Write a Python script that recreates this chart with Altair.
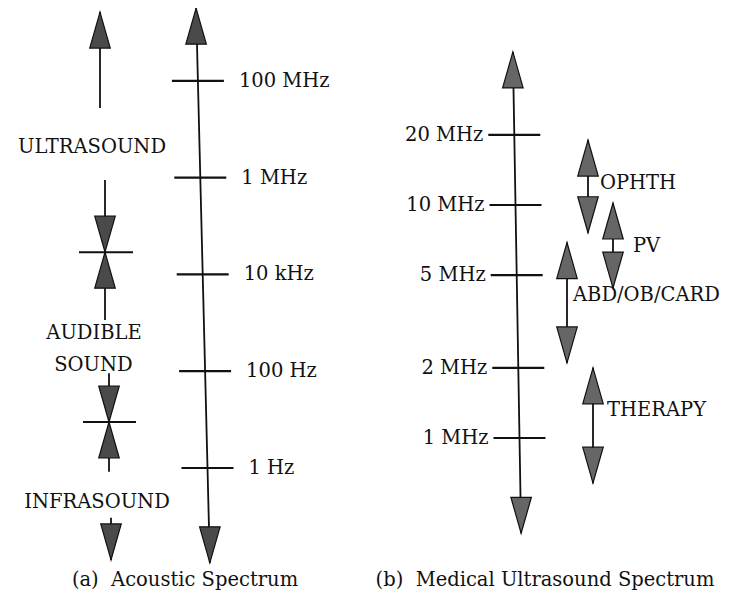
import altair as alt
import pandas as pd
import math

# ---------------- (a) Acoustic spectrum : values are log10(frequency / Hz) ----------------
a_tick_labels = ["100 MHz", "1 MHz", "10 kHz", "100 Hz", "1 Hz"]
a_tick_log10 = [8, 6, 4, 2, 0]
a_axis_tips_log10 = [9.50, -1.96]                 # top / bottom arrow tips of the main axis
a_region_labels = ["ULTRASOUND", "AUDIBLE", "SOUND", "INFRASOUND"]
a_region_label_log10 = [6.63, 2.79, 2.13, -0.70]
a_boundary_log10 = [4.46, 0.95]                   # ultrasound/audible, audible/infrasound
a_arrow_from_log10 = [7.44, 5.95, 3.06, 1.96, -0.08, -1.03]
a_arrow_to_log10 = [9.42, 4.46, 4.46, 0.95, 0.95, -1.90]

# ---------------- (b) Medical ultrasound spectrum : values in MHz ----------------
b_tick_labels = ["20 MHz", "10 MHz", "5 MHz", "2 MHz", "1 MHz"]
b_tick_mhz = [20, 10, 5, 2, 1]
b_axis_tips_mhz = [45.4, 0.39]
b_band_labels = ["OPHTH", "PV", "ABD/OB/CARD", "THERAPY"]
b_band_low_mhz = [7.6, 4.4, 2.1, 0.64]
b_band_high_mhz = [19.0, 10.2, 6.9, 2.0]
b_band_label_mhz = [12.4, 6.7, 4.1, 1.32]

captions = ["(a)\u00a0 Acoustic Spectrum", "(b)\u00a0 Medical Ultrasound Spectrum"]

# ---------------- layout / style ----------------
INK = "#111111"
HEAD_FILL_A = "#4a4a4a"
HEAD_FILL_B = "#666666"
FONT = "DejaVu Serif"
FS = 19.5
W, H = 724, 589

A_AXIS_X0, A_AXIS_SLANT = 207.5, 1.2      # main axis x at 1 Hz and drift per decade
A_TICK_HALF, A_LABEL_GAP = 26, 41
A_COL_X = [100, 105, 105, 109, 109, 111]
A_BOUND_X = [(79, 133), (83, 136)]
A_REGION_X = [92, 94, 93.5, 97]

B_AXIS_X0, B_AXIS_SLANT = 519.5, 4.0
B_TICK_HALF, B_LABEL_GAP = 26, 31
B_BAND_X = [588, 613, 567, 593]
B_BAND_LABEL_X = [600, 633, 573, 607]
CAPTION_X = [185, 545]
CAPTION_Y = 572

HEAD = 36          # arrow head length (px)
UP = "M0,0L-0.57,2L0.57,2Z"
DOWN = "M0,0L-0.57,-2L0.57,-2Z"

XS = alt.Scale(domain=[8, 8 + W], nice=False, zero=False)
YA = alt.Scale(domain=[(468 - 597) / 48.4, (468 - 8) / 48.4], nice=False, zero=False)
YB = alt.Scale(type="log", domain=[10 ** ((438 - 597) / 233), 10 ** ((438 - 8) / 233)],
               nice=False, zero=False)


def ax_a(L):
    return A_AXIS_X0 - A_AXIS_SLANT * L


def ax_b(mhz):
    return B_AXIS_X0 - B_AXIS_SLANT * math.log10(mhz)


def rules(df, ys, sw=2.0):
    enc = dict(x=alt.X("x:Q", scale=XS, axis=None), y=alt.Y("y:Q", scale=ys, axis=None))
    if "x2" in df:
        enc["x2"] = "x2:Q"
    if "y2" in df:
        enc["y2"] = "y2:Q"
    return alt.Chart(df).mark_rule(color=INK, strokeWidth=sw).encode(**enc)


def heads(df, ys, fill):
    layers = []
    for d, path in (("up", UP), ("down", DOWN)):
        sub = df[df["dir"] == d]
        if len(sub):
            layers.append(
                alt.Chart(sub).mark_point(shape=path, size=HEAD * HEAD, filled=True,
                                          fill=fill, stroke=INK, strokeWidth=1.2,
                                          opacity=1)
                .encode(x=alt.X("x:Q", scale=XS, axis=None),
                        y=alt.Y("y:Q", scale=ys, axis=None)))
    return layers


def texts(df, ys, align):
    return alt.Chart(df).mark_text(font=FONT, fontSize=FS, color=INK, align=align,
                                   baseline="middle").encode(
        x=alt.X("x:Q", scale=XS, axis=None), y=alt.Y("y:Q", scale=ys, axis=None),
        text="t:N")


# ---------------- panel (a) ----------------
a_axis = pd.DataFrame({"x": [ax_a(a_axis_tips_log10[0])], "x2": [ax_a(a_axis_tips_log10[1])],
                       "y": [a_axis_tips_log10[0]], "y2": [a_axis_tips_log10[1]]})
a_ticks = pd.DataFrame({"y": a_tick_log10,
                        "x": [ax_a(v) - A_TICK_HALF for v in a_tick_log10],
                        "x2": [ax_a(v) + A_TICK_HALF for v in a_tick_log10]})
a_tick_text = pd.DataFrame({"y": a_tick_log10, "t": a_tick_labels,
                            "x": [ax_a(v) + A_LABEL_GAP for v in a_tick_log10]})
a_shafts = pd.DataFrame({"x": A_COL_X, "y": a_arrow_from_log10, "y2": a_arrow_to_log10})
a_bounds = pd.DataFrame({"y": a_boundary_log10, "x": [b[0] for b in A_BOUND_X],
                         "x2": [b[1] for b in A_BOUND_X]})
a_heads = pd.DataFrame({
    "x": [ax_a(a_axis_tips_log10[0]), ax_a(a_axis_tips_log10[1])] + A_COL_X,
    "y": a_axis_tips_log10 + a_arrow_to_log10,
    "dir": ["up", "down"] + ["up" if t > f else "down"
                             for f, t in zip(a_arrow_from_log10, a_arrow_to_log10)]})
a_region_text = pd.DataFrame({"x": A_REGION_X, "y": a_region_label_log10, "t": a_region_labels})

layer_a = alt.layer(
    rules(a_axis, YA, 1.8), rules(a_ticks, YA, 2.2), rules(a_shafts, YA, 1.8),
    rules(a_bounds, YA, 2.0), *heads(a_heads, YA, HEAD_FILL_A),
    texts(a_tick_text, YA, "left"), texts(a_region_text, YA, "center"),
)

# ---------------- panel (b) ----------------
b_axis = pd.DataFrame({"x": [ax_b(b_axis_tips_mhz[0])], "x2": [ax_b(b_axis_tips_mhz[1])],
                       "y": [b_axis_tips_mhz[0]], "y2": [b_axis_tips_mhz[1]]})
b_ticks = pd.DataFrame({"y": b_tick_mhz,
                        "x": [ax_b(v) - B_TICK_HALF for v in b_tick_mhz],
                        "x2": [ax_b(v) + B_TICK_HALF for v in b_tick_mhz]})
b_tick_text = pd.DataFrame({"y": b_tick_mhz, "t": b_tick_labels,
                            "x": [ax_b(v) - B_LABEL_GAP for v in b_tick_mhz]})
b_shafts = pd.DataFrame({"x": B_BAND_X, "y": b_band_low_mhz, "y2": b_band_high_mhz})
b_heads = pd.DataFrame({
    "x": [ax_b(b_axis_tips_mhz[0]), ax_b(b_axis_tips_mhz[1])] + B_BAND_X + B_BAND_X,
    "y": b_axis_tips_mhz + b_band_high_mhz + b_band_low_mhz,
    "dir": ["up", "down"] + ["up"] * len(B_BAND_X) + ["down"] * len(B_BAND_X)})
b_band_text = pd.DataFrame({"x": B_BAND_LABEL_X, "y": b_band_label_mhz, "t": b_band_labels})

layer_b = alt.layer(
    rules(b_axis, YB, 1.8), rules(b_ticks, YB, 2.2), rules(b_shafts, YB, 1.8),
    *heads(b_heads, YB, HEAD_FILL_B),
    texts(b_tick_text, YB, "right"), texts(b_band_text, YB, "left"),
)

# ---------------- captions ----------------
cap = alt.Chart(pd.DataFrame({"x": CAPTION_X, "t": captions})).mark_text(
    font=FONT, fontSize=FS, color=INK, align="center", baseline="middle").encode(
    x=alt.X("x:Q", scale=XS, axis=None), y=alt.value(CAPTION_Y), text="t:N")

chart = (
    alt.layer(layer_a, layer_b, cap)
    .resolve_scale(y="independent")
    .properties(width=W, height=H, padding=0, background="white",
                autosize=alt.AutoSizeParams(type="none"))
    .configure_view(stroke=None)
)

chart.save("out.html", embed_options={"renderer": "svg", "actions": False})
